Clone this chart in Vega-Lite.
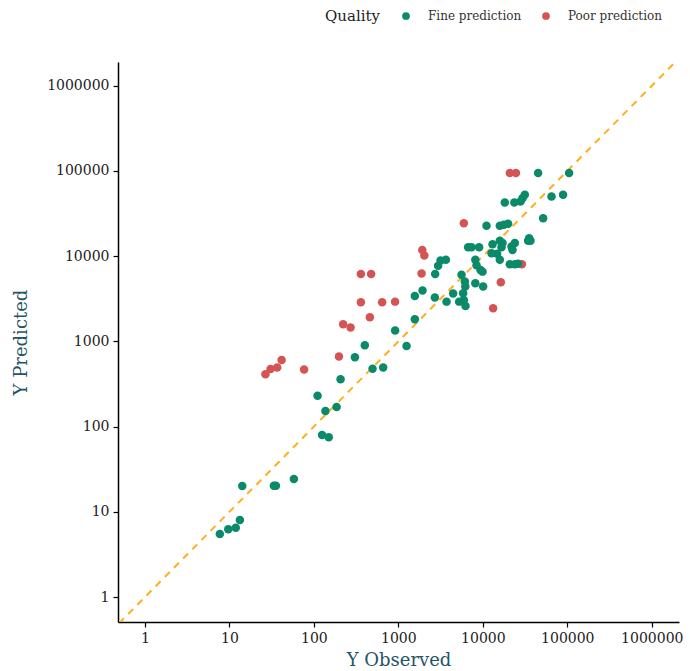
{
  "$schema": "https://vega.github.io/schema/vega-lite/v6.json",
  "width": 561,
  "height": 560,
  "autosize": {"type": "none"},
  "padding": {"left": 118, "top": 62, "right": 11, "bottom": 49},
  "background": "white",
  "config": {
    "view": {"stroke": null},
    "font": "DejaVu Serif",
    "axis": {
      "grid": false,
      "domainColor": "#000000",
      "domainWidth": 1.5,
      "tickColor": "#000000",
      "tickWidth": 1.2,
      "tickSize": 5,
      "labelFont": "DejaVu Serif",
      "labelFontSize": 14,
      "labelColor": "#222222",
      "titleFont": "DejaVu Serif",
      "titleFontSize": 18,
      "titleFontWeight": "normal",
      "titleColor": "#1f5566"
    },
    "legend": {
      "labelFont": "DejaVu Serif",
      "titleFont": "DejaVu Serif"
    }
  },
  "datasets": {
    "pts": [
      {"obs": 26.7, "pred": 413, "Quality": "Poor prediction"},
      {"obs": 30.7, "pred": 475, "Quality": "Poor prediction"},
      {"obs": 36.8, "pred": 495, "Quality": "Poor prediction"},
      {"obs": 41.5, "pred": 606, "Quality": "Poor prediction"},
      {"obs": 76.6, "pred": 469, "Quality": "Poor prediction"},
      {"obs": 198, "pred": 665, "Quality": "Poor prediction"},
      {"obs": 222, "pred": 1592, "Quality": "Poor prediction"},
      {"obs": 272, "pred": 1452, "Quality": "Poor prediction"},
      {"obs": 360, "pred": 6200, "Quality": "Poor prediction"},
      {"obs": 476, "pred": 6200, "Quality": "Poor prediction"},
      {"obs": 360, "pred": 2880, "Quality": "Poor prediction"},
      {"obs": 643, "pred": 2880, "Quality": "Poor prediction"},
      {"obs": 914, "pred": 2930, "Quality": "Poor prediction"},
      {"obs": 460, "pred": 1923, "Quality": "Poor prediction"},
      {"obs": 1883, "pred": 6260, "Quality": "Poor prediction"},
      {"obs": 1920, "pred": 11860, "Quality": "Poor prediction"},
      {"obs": 2030, "pred": 10200, "Quality": "Poor prediction"},
      {"obs": 5960, "pred": 24300, "Quality": "Poor prediction"},
      {"obs": 20880, "pred": 94400, "Quality": "Poor prediction"},
      {"obs": 24660, "pred": 94400, "Quality": "Poor prediction"},
      {"obs": 29000, "pred": 8060, "Quality": "Poor prediction"},
      {"obs": 16330, "pred": 4960, "Quality": "Poor prediction"},
      {"obs": 13240, "pred": 2450, "Quality": "Poor prediction"},
      {"obs": 7.7, "pred": 5.5, "Quality": "Fine prediction"},
      {"obs": 9.7, "pred": 6.24, "Quality": "Fine prediction"},
      {"obs": 11.9, "pred": 6.5, "Quality": "Fine prediction"},
      {"obs": 13.3, "pred": 8.0, "Quality": "Fine prediction"},
      {"obs": 14.2, "pred": 20.1, "Quality": "Fine prediction"},
      {"obs": 33.6, "pred": 20.2, "Quality": "Fine prediction"},
      {"obs": 35.5, "pred": 20.2, "Quality": "Fine prediction"},
      {"obs": 58, "pred": 24.3, "Quality": "Fine prediction"},
      {"obs": 110.6, "pred": 231, "Quality": "Fine prediction"},
      {"obs": 137, "pred": 153, "Quality": "Fine prediction"},
      {"obs": 186, "pred": 170, "Quality": "Fine prediction"},
      {"obs": 125, "pred": 79.8, "Quality": "Fine prediction"},
      {"obs": 150, "pred": 75, "Quality": "Fine prediction"},
      {"obs": 207, "pred": 360, "Quality": "Fine prediction"},
      {"obs": 306, "pred": 654, "Quality": "Fine prediction"},
      {"obs": 401, "pred": 902, "Quality": "Fine prediction"},
      {"obs": 495, "pred": 479, "Quality": "Fine prediction"},
      {"obs": 661, "pred": 495, "Quality": "Fine prediction"},
      {"obs": 916, "pred": 1339, "Quality": "Fine prediction"},
      {"obs": 1250, "pred": 885, "Quality": "Fine prediction"},
      {"obs": 1567, "pred": 1823, "Quality": "Fine prediction"},
      {"obs": 1567, "pred": 3420, "Quality": "Fine prediction"},
      {"obs": 1933, "pred": 3950, "Quality": "Fine prediction"},
      {"obs": 2704, "pred": 3270, "Quality": "Fine prediction"},
      {"obs": 2727, "pred": 6200, "Quality": "Fine prediction"},
      {"obs": 2958, "pred": 7700, "Quality": "Fine prediction"},
      {"obs": 3157, "pred": 8890, "Quality": "Fine prediction"},
      {"obs": 3650, "pred": 9060, "Quality": "Fine prediction"},
      {"obs": 3719, "pred": 2930, "Quality": "Fine prediction"},
      {"obs": 4453, "pred": 3660, "Quality": "Fine prediction"},
      {"obs": 5245, "pred": 2930, "Quality": "Fine prediction"},
      {"obs": 5598, "pred": 6040, "Quality": "Fine prediction"},
      {"obs": 6124, "pred": 5040, "Quality": "Fine prediction"},
      {"obs": 6200, "pred": 4400, "Quality": "Fine prediction"},
      {"obs": 5848, "pred": 3680, "Quality": "Fine prediction"},
      {"obs": 5960, "pred": 3070, "Quality": "Fine prediction"},
      {"obs": 6237, "pred": 2610, "Quality": "Fine prediction"},
      {"obs": 8150, "pred": 4800, "Quality": "Fine prediction"},
      {"obs": 10090, "pred": 4400, "Quality": "Fine prediction"},
      {"obs": 6700, "pred": 12700, "Quality": "Fine prediction"},
      {"obs": 7350, "pred": 12700, "Quality": "Fine prediction"},
      {"obs": 9040, "pred": 12700, "Quality": "Fine prediction"},
      {"obs": 8150, "pred": 9060, "Quality": "Fine prediction"},
      {"obs": 8420, "pred": 7830, "Quality": "Fine prediction"},
      {"obs": 9390, "pred": 6910, "Quality": "Fine prediction"},
      {"obs": 9920, "pred": 6590, "Quality": "Fine prediction"},
      {"obs": 13030, "pred": 13840, "Quality": "Fine prediction"},
      {"obs": 15890, "pred": 15140, "Quality": "Fine prediction"},
      {"obs": 16640, "pred": 12740, "Quality": "Fine prediction"},
      {"obs": 12680, "pred": 10850, "Quality": "Fine prediction"},
      {"obs": 14760, "pred": 10650, "Quality": "Fine prediction"},
      {"obs": 15890, "pred": 9060, "Quality": "Fine prediction"},
      {"obs": 21860, "pred": 12970, "Quality": "Fine prediction"},
      {"obs": 22450, "pred": 11860, "Quality": "Fine prediction"},
      {"obs": 17110, "pred": 14330, "Quality": "Fine prediction"},
      {"obs": 23920, "pred": 14330, "Quality": "Fine prediction"},
      {"obs": 34380, "pred": 15140, "Quality": "Fine prediction"},
      {"obs": 20880, "pred": 8060, "Quality": "Fine prediction"},
      {"obs": 23920, "pred": 8060, "Quality": "Fine prediction"},
      {"obs": 26170, "pred": 8130, "Quality": "Fine prediction"},
      {"obs": 35320, "pred": 16280, "Quality": "Fine prediction"},
      {"obs": 36650, "pred": 15140, "Quality": "Fine prediction"},
      {"obs": 11060, "pred": 22700, "Quality": "Fine prediction"},
      {"obs": 15890, "pred": 22700, "Quality": "Fine prediction"},
      {"obs": 17740, "pred": 23320, "Quality": "Fine prediction"},
      {"obs": 19910, "pred": 23970, "Quality": "Fine prediction"},
      {"obs": 18200, "pred": 42640, "Quality": "Fine prediction"},
      {"obs": 23600, "pred": 42640, "Quality": "Fine prediction"},
      {"obs": 27930, "pred": 43780, "Quality": "Fine prediction"},
      {"obs": 29510, "pred": 47980, "Quality": "Fine prediction"},
      {"obs": 31410, "pred": 52480, "Quality": "Fine prediction"},
      {"obs": 51760, "pred": 27950, "Quality": "Fine prediction"},
      {"obs": 65010, "pred": 50120, "Quality": "Fine prediction"},
      {"obs": 89130, "pred": 52480, "Quality": "Fine prediction"},
      {"obs": 45110, "pred": 94400, "Quality": "Fine prediction"},
      {"obs": 105000, "pred": 94400, "Quality": "Fine prediction"}
    ],
    "diag": [
      {"obs": 0.3, "pred": 0.3},
      {"obs": 3000000, "pred": 3000000}
    ]
  },
  "layer": [
    {
      "data": {"name": "diag"},
      "mark": {"type": "line", "color": "#FFAE1F", "strokeWidth": 2, "strokeDash": [7, 6], "clip": true},
      "encoding": {
        "x": {"field": "obs", "type": "quantitative", "scale": {"type": "log", "domain": [0.48, 2100000], "nice": false}},
        "y": {"field": "pred", "type": "quantitative", "scale": {"type": "log", "domain": [0.51, 1900000], "nice": false}}
      }
    },
    {
      "data": {"name": "pts"},
      "mark": {"type": "circle", "size": 72, "opacity": 1},
      "encoding": {
        "x": {
          "field": "obs", "type": "quantitative",
          "scale": {"type": "log", "domain": [0.48, 2100000], "nice": false},
          "axis": {"title": "Y Observed", "values": [1, 10, 100, 1000, 10000, 100000, 1000000], "format": "d", "labelPadding": 4, "titlePadding": 6}
        },
        "y": {
          "field": "pred", "type": "quantitative",
          "scale": {"type": "log", "domain": [0.51, 1900000], "nice": false},
          "axis": {"title": "Y Predicted", "values": [1, 10, 100, 1000, 10000, 100000, 1000000], "format": "d", "labelPadding": 4, "titlePadding": 16}
        },
        "color": {
          "field": "Quality", "type": "nominal",
          "scale": {"domain": ["Fine prediction", "Poor prediction"], "range": ["#0A8A68", "#D45454"]},
          "legend": {
            "orient": "none",
            "direction": "horizontal",
            "legendX": 207,
            "legendY": -52,
            "title": "Quality",
            "titleOrient": "left",
            "titleFontSize": 15,
            "titleFontWeight": "normal",
            "titleColor": "#222222",
            "titlePadding": 20,
            "labelFontSize": 12,
            "labelColor": "#333333",
            "labelOffset": 16,
            "columnPadding": 18,
            "symbolType": "circle",
            "symbolSize": 60,
            "symbolStrokeWidth": 0,
            "symbolOpacity": 1
          }
        }
      }
    }
  ]
}
